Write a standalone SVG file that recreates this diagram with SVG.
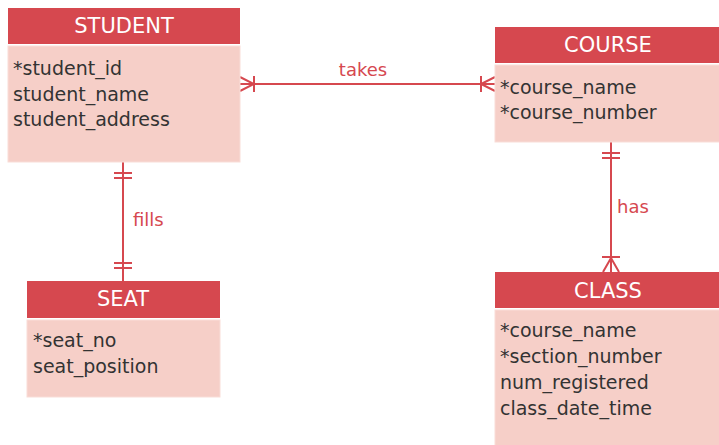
<svg xmlns="http://www.w3.org/2000/svg" width="719" height="445" viewBox="0 0 719 445">
<style>
.hd{fill:#d6484f;}
.bd{fill:#f6cfc8;stroke:#f9ddd8;stroke-width:1;}
.ht{font-family:"DejaVu Sans",Verdana,sans-serif;font-size:21px;fill:#ffffff;text-anchor:middle;}
.at{font-family:"DejaVu Sans",Verdana,sans-serif;font-size:19px;fill:#333333;}
.lb{font-family:"DejaVu Sans",Verdana,sans-serif;font-size:18px;fill:#d6484f;}
.ln{stroke:#d6484f;stroke-width:2;fill:none;}
</style>
<rect width="719" height="445" fill="#ffffff"/>
<g id="connectors">
  <g id="takes">
    <line class="ln" x1="240" y1="84" x2="495" y2="84"/>
    <polyline class="ln" points="240,77 254,84 240,91"/>
    <line class="ln" x1="254" y1="76" x2="254" y2="92"/>
    <polyline class="ln" points="495,77 481,84 495,91"/>
    <line class="ln" x1="481" y1="76" x2="481" y2="92"/>
    <text class="lb" x="363" y="76" text-anchor="middle">takes</text>
  </g>
  <g id="fills">
    <line class="ln" x1="123" y1="162" x2="123" y2="281"/>
    <line class="ln" x1="114" y1="173" x2="132" y2="173"/>
    <line class="ln" x1="114" y1="178" x2="132" y2="178"/>
    <line class="ln" x1="114" y1="263" x2="132" y2="263"/>
    <line class="ln" x1="114" y1="268" x2="132" y2="268"/>
    <text class="lb" x="133" y="226">fills</text>
  </g>
  <g id="has">
    <line class="ln" x1="611" y1="142" x2="611" y2="272"/>
    <line class="ln" x1="602" y1="153" x2="620" y2="153"/>
    <line class="ln" x1="602" y1="158" x2="620" y2="158"/>
    <polyline class="ln" points="603,272 611,258 619,272"/>
    <line class="ln" x1="602" y1="257" x2="620" y2="257"/>
    <text class="lb" x="617" y="213">has</text>
  </g>
</g>
<g id="student">
  <rect class="hd" x="8" y="8" width="232" height="36"/>
  <rect class="bd" x="8" y="46" width="232" height="116"/>
  <text class="ht" x="124" y="33">STUDENT</text>
  <text class="at" x="13" y="75">*student_id</text>
  <text class="at" x="13" y="101">student_name</text>
  <text class="at" x="13" y="126">student_address</text>
</g>
<g id="course">
  <rect class="hd" x="495" y="27" width="230" height="36"/>
  <rect class="bd" x="495" y="65" width="230" height="77"/>
  <text class="ht" x="608" y="52">COURSE</text>
  <text class="at" x="500" y="94">*course_name</text>
  <text class="at" x="500" y="119">*course_number</text>
</g>
<g id="seat">
  <rect class="hd" x="27" y="281" width="193" height="37"/>
  <rect class="bd" x="27" y="320" width="193" height="77"/>
  <text class="ht" x="123" y="306">SEAT</text>
  <text class="at" x="33" y="347">*seat_no</text>
  <text class="at" x="33" y="373">seat_position</text>
</g>
<g id="class">
  <rect class="hd" x="495" y="272" width="230" height="36"/>
  <rect class="bd" x="495" y="310" width="230" height="140"/>
  <text class="ht" x="608" y="298">CLASS</text>
  <text class="at" x="500" y="337">*course_name</text>
  <text class="at" x="500" y="363">*section_number</text>
  <text class="at" x="500" y="389">num_registered</text>
  <text class="at" x="500" y="415">class_date_time</text>
</g>
</svg>
